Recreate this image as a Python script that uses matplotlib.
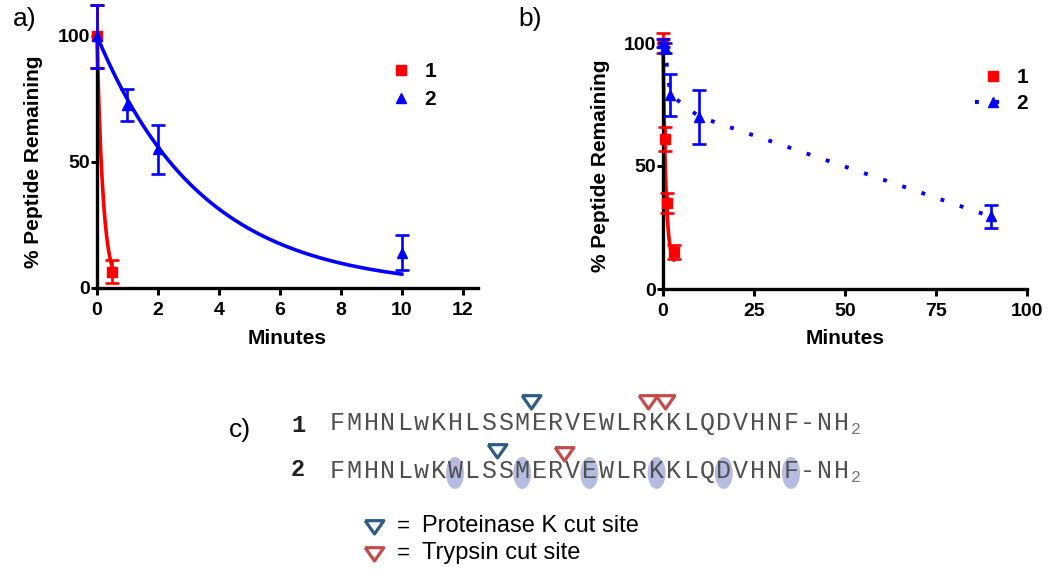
import numpy as np
import matplotlib
matplotlib.use("Agg")
import matplotlib.pyplot as plt
from matplotlib.lines import Line2D
from matplotlib.patches import Ellipse

# ---------------- data ----------------
# panel a (minutes, % peptide remaining, SD)
a_time_1 = [0, 0.5]
a_pct_1 = [100, 6.5]
a_err_1 = [12.5, 4.5]
a_time_2 = [0, 1, 2, 10]
a_pct_2 = [100, 72.5, 55, 14]
a_err_2 = [12.5, 6.3, 9.7, 7]
# one-phase decay fits: (Y0, plateau, k per minute, t_end)
a_fit_1 = (100, 0, 5.0, 0.5)
a_fit_2 = (100, 0, 0.29, 10)

# panel b
b_time_1 = [0, 0.5, 1, 3]
b_pct_1 = [100, 61, 35, 15]
b_err_1 = [4, 5, 4, 3]
b_fit_1 = (100, 10, 1.3, 3)
b_time_2 = [0, 0.5, 2, 10, 90]
b_pct_2 = [100, 98, 79, 70, 29.5]
b_err_2 = [1.5, 2, 8.5, 11, 4.5]

a_xticks = [0, 2, 4, 6, 8, 10, 12]
b_xticks = [0, 25, 50, 75, 100]
y_ticks = [0, 50, 100]
series_labels = ["1", "2"]

# panel c
seq_1 = "FMHNLwKHLSSMERVEWLRKKLQDVHNF-NH"
seq_2 = "FMHNLwKWLSSMERVEWLRKKLQDVHNF-NH"
protk_cuts_1 = [12]
trypsin_cuts_1 = [19, 20]
protk_cuts_2 = [10]
trypsin_cuts_2 = [14]
staple_residues_2 = [7, 11, 15, 19, 23, 27]

RED = '#ff0000'
BLUE = '#0000ff'
TRI_BLUE = '#2d5a88'
TRI_RED = '#c24b4b'
SEQ_GRAY = '#505050'

plt.rcParams['font.family'] = ['Liberation Sans', 'DejaVu Sans']

W, H = 1050, 578
fig = plt.figure(figsize=(W / 100, H / 100), dpi=100)


def fx(px):
    return px / W


def fy(py):
    return 1 - py / H


def style(ax, xlim, xticks):
    ax.set_xlim(*xlim)
    ax.set_ylim(0, 100)
    ax.set_xticks(xticks)
    ax.set_yticks(y_ticks)
    for s in ['top', 'right']:
        ax.spines[s].set_visible(False)
    for s in ['left', 'bottom']:
        ax.spines[s].set_linewidth(2.4)
    ax.tick_params(width=2.2, length=5, labelsize=14)
    ax.tick_params(axis='x', pad=5)
    ax.tick_params(axis='y', pad=1, length=4)
    for lab in ax.get_xticklabels() + ax.get_yticklabels():
        lab.set_fontweight('bold')
    ax.patch.set_alpha(0)


def errbars(ax, x, y, e, color, marker, ms, zorder):
    eb = ax.errorbar(x, y, yerr=e, fmt=marker, color=color, ms=ms,
                     elinewidth=1.9, capsize=5, capthick=1.9, zorder=zorder)
    for art in [eb[0], *eb[1], *eb[2]]:
        art.set_clip_on(False)


def fit_curve(ax, fit, color, zorder):
    y0, plateau, k, t_end = fit
    t = np.linspace(0, t_end, 300)
    ax.plot(t, (y0 - plateau) * np.exp(-k * t) + plateau, color=color,
            lw=2.6, clip_on=False, zorder=zorder)


DOTS = (0, (1, 4.2))

# ---------------- panel a ----------------
ax_a = fig.add_axes([fx(97), fy(288), fx(478) - fx(97), fy(36) - fy(288)])
style(ax_a, (0, 12.5), a_xticks)
fit_curve(ax_a, a_fit_1, RED, 2)
errbars(ax_a, a_time_1, a_pct_1, a_err_1, RED, 's', 6.5, 3)
fit_curve(ax_a, a_fit_2, BLUE, 2)
errbars(ax_a, a_time_2, a_pct_2, a_err_2, BLUE, '^', 7.5, 4)

h_a = [Line2D([], [], ls='none', marker='s', color=RED, ms=6.5),
       Line2D([], [], ls='none', marker='^', color=BLUE, ms=7)]
ax_a.legend(h_a, series_labels, loc='upper left', bbox_to_anchor=(fx(391), fy(62)),
            bbox_transform=fig.transFigure, frameon=False, handlelength=1.0,
            handletextpad=0.6, labelspacing=0.45, borderpad=0, borderaxespad=0,
            prop={'weight': 'bold', 'size': 15})

fig.text(fx(25), fy(19), 'a)', fontsize=19, ha='center', va='center')
fig.text(fx(34), fy(162), '% Peptide Remaining', fontsize=15, fontweight='bold',
         rotation=90, ha='center', va='center')
fig.text(fx(287), fy(338), 'Minutes', fontsize=15, fontweight='bold',
         ha='center', va='center')

# ---------------- panel b ----------------
ax_b = fig.add_axes([fx(663), fy(289), fx(1027) - fx(663), fy(43) - fy(289)])
style(ax_b, (0, 100), b_xticks)
fit_curve(ax_b, b_fit_1, RED, 2)
errbars(ax_b, b_time_1, b_pct_1, b_err_1, RED, 's', 6.5, 3)
ax_b.plot(b_time_2, b_pct_2, color=BLUE, lw=2.8, ls=DOTS, zorder=2,
          clip_on=False)
errbars(ax_b, b_time_2, b_pct_2, b_err_2, BLUE, '^', 7.5, 4)

h_b = [Line2D([], [], ls='none', marker='s', color=RED, ms=6.5),
       Line2D([], [], ls=DOTS, lw=2.8, marker='^', color=BLUE, ms=7)]
ax_b.legend(h_b, series_labels, loc='upper left', bbox_to_anchor=(fx(975), fy(68)),
            bbox_transform=fig.transFigure, frameon=False, handlelength=1.7,
            handletextpad=0.3, labelspacing=0.35, borderpad=0, borderaxespad=0,
            prop={'weight': 'bold', 'size': 15})

fig.text(fx(530), fy(19), 'b)', fontsize=19, ha='center', va='center')
fig.text(fx(600), fy(166), '% Peptide Remaining', fontsize=15, fontweight='bold',
         rotation=90, ha='center', va='center')
fig.text(fx(845), fy(339), 'Minutes', fontsize=15, fontweight='bold',
         ha='center', va='center')

# ---------------- panel c ----------------
axc = fig.add_axes([0, 0, 1, 1])
axc.set_xlim(0, W)
axc.set_ylim(H, 0)
axc.axis('off')

x0 = 329.0
pitch = 16.8
rows = [(seq_1, 430, protk_cuts_1, trypsin_cuts_1, [], 401, 401),
        (seq_2, 478, protk_cuts_2, trypsin_cuts_2, staple_residues_2, 450, 453)]
tri = [(-1, 0.62), (1, 0.62), (0, -0.8), (-1, 0.62)]

for seq, base, pk, tr, staples, ypk, ytr in rows:
    for i in staples:
        axc.add_patch(Ellipse((x0 + (i + 0.5) * pitch, base - 5), 18, 32,
                              facecolor='#a9b1dc', edgecolor='none', alpha=0.85,
                              zorder=1))
    for i, ch in enumerate(seq):
        axc.text(x0 + (i + 0.5) * pitch, base, ch, family='Liberation Mono',
                 fontsize=18, color=SEQ_GRAY, ha='center', va='baseline', zorder=2)
    axc.text(x0 + len(seq) * pitch + 1, base + 4, '2', family='Liberation Mono',
             fontsize=12, color='#777777', ha='left', va='baseline', zorder=2)
    axc.plot([x0 + c * pitch for c in pk], [ypk] * len(pk), ls='none', marker=tri,
             ms=13.5, mfc='none', mec=TRI_BLUE, mew=2.3, zorder=3)
    axc.plot([x0 + c * pitch for c in tr], [ytr] * len(tr), ls='none', marker=tri,
             ms=13.5, mfc='none', mec=TRI_RED, mew=2.3, zorder=3)

axc.text(298, 432, '1', family='Liberation Mono', fontweight='bold', fontsize=17,
         color='#222222', ha='center', va='baseline')
axc.text(298, 476, '2', family='Liberation Mono', fontweight='bold', fontsize=17,
         color='#222222', ha='center', va='baseline')
axc.text(240, 430, 'c)', fontsize=19, ha='center', va='center')

axc.plot([374], [526], ls='none', marker=tri, ms=13.5, mfc='none', mec=TRI_BLUE, mew=2.3)
axc.plot([374], [553], ls='none', marker=tri, ms=13.5, mfc='none', mec=TRI_RED, mew=2.3)
axc.text(403, 526, '=', fontsize=16, ha='center', va='center')
axc.text(403, 553, '=', fontsize=16, ha='center', va='center')
axc.text(422, 526, 'Proteinase K cut site', fontsize=17, ha='left', va='center')
axc.text(422, 553, 'Trypsin cut site', fontsize=17, ha='left', va='center')

fig.savefig('out.png', dpi=100)
